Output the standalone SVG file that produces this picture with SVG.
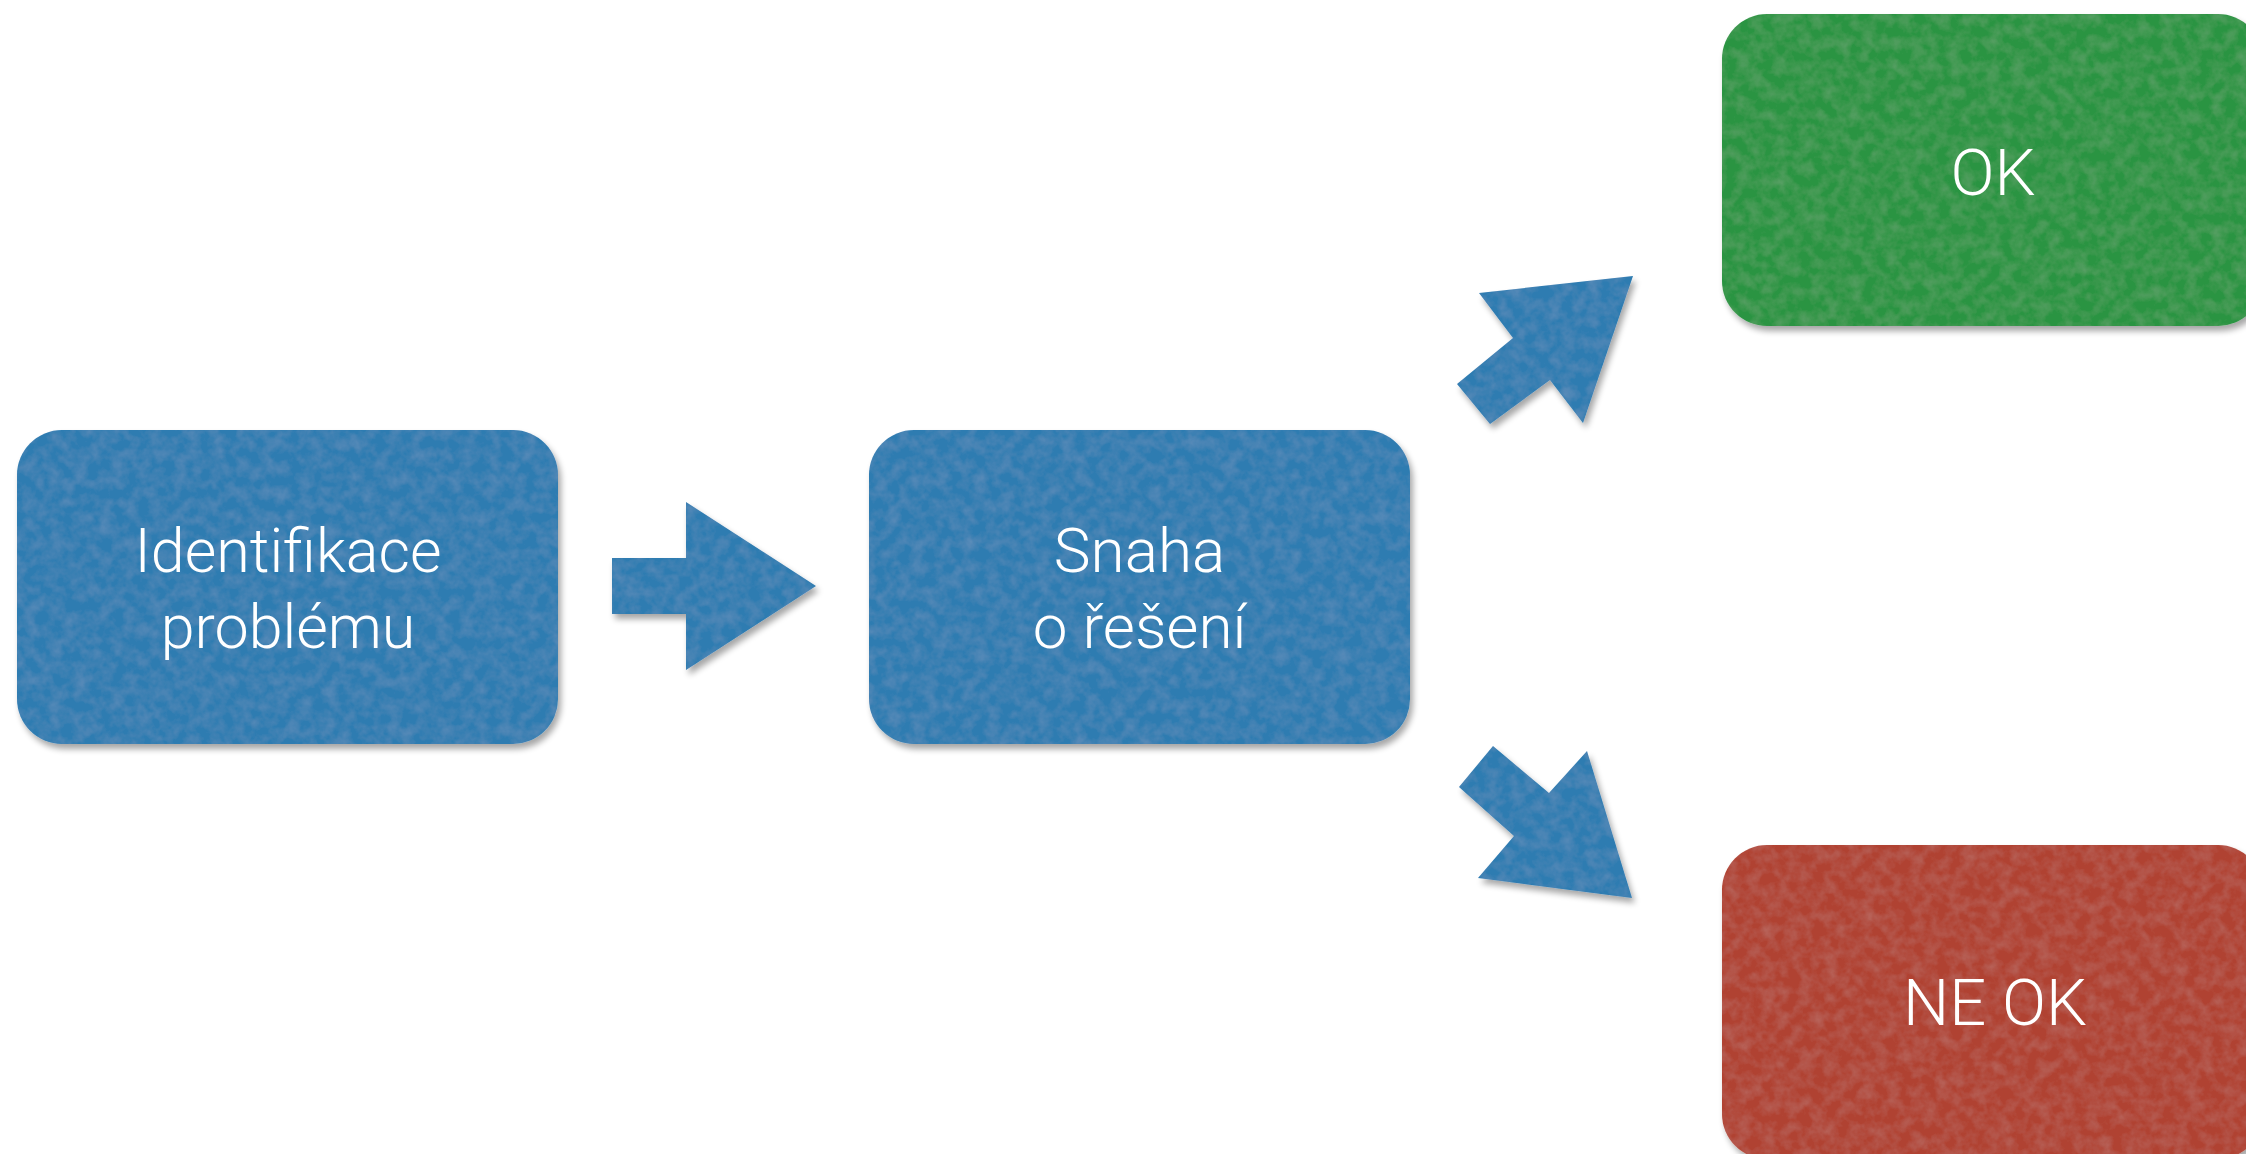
<svg xmlns="http://www.w3.org/2000/svg" width="2246" height="1154" viewBox="0 0 2246 1154">
<style>
  .lbl { font-family: Roboto, "Liberation Sans", Arial, sans-serif; fill: #ffffff; text-anchor: middle; font-weight: 300; }
  .blue { fill: #2e7bb1; }
  .green { fill: #2c9443; }
  .red { fill: #b04231; }
</style>
<defs>
  <filter id="felt" x="-5%" y="-5%" width="115%" height="120%">
    <feGaussianBlur in="SourceAlpha" stdDeviation="3" result="b"/>
    <feOffset in="b" dx="3" dy="5" result="o"/>
    <feComponentTransfer in="o" result="sh"><feFuncA type="linear" slope="0.35"/></feComponentTransfer>
    <feTurbulence type="fractalNoise" baseFrequency="0.08" numOctaves="3" seed="7" result="n"/>
    <feColorMatrix in="n" type="matrix" values="0 0 0 0 1  0 0 0 0 1  0 0 0 0 1  0.12 0 0 0 -0.04" result="t0"/>
    <feComposite in="t0" in2="SourceAlpha" operator="in" result="tex"/>
    <feMerge><feMergeNode in="sh"/><feMergeNode in="SourceGraphic"/><feMergeNode in="tex"/></feMerge>
  </filter>
</defs>
<rect width="2246" height="1154" fill="#ffffff"/>
<g id="connectors">
  <polygon id="arrow-1" class="blue" filter="url(#felt)" points="612,558 686,558 686,502 816,586 686,670 686,614 612,614"/>
  <polygon id="arrow-ok" class="blue" filter="url(#felt)" points="1457,384 1490,424 1550,380 1583,423 1633,276 1479,293 1513,338"/>
  <polygon id="arrow-neok" class="blue" filter="url(#felt)" points="1459,787 1493,746 1549,793 1587,751 1632,898 1478,878 1514,836"/>
</g>
<g id="node-identifikace">
  <rect class="blue" filter="url(#felt)" x="17" y="430" width="541" height="314" rx="45" ry="45"/>
  <text class="lbl" x="288" y="572" font-size="61">Identifikace</text>
  <text class="lbl" x="288" y="648" font-size="61">problému</text>
</g>
<g id="node-snaha">
  <rect class="blue" filter="url(#felt)" x="869" y="430" width="541" height="314" rx="45" ry="45"/>
  <text class="lbl" x="1139.5" y="572" font-size="62">Snaha</text>
  <text class="lbl" x="1139.5" y="648" font-size="62">o řešení</text>
</g>
<g id="node-ok">
  <rect class="green" filter="url(#felt)" x="1722" y="14" width="541" height="312" rx="45" ry="45"/>
  <text class="lbl" x="1993" y="195" font-size="65">OK</text>
</g>
<g id="node-neok">
  <rect class="red" filter="url(#felt)" x="1722" y="845" width="541" height="314" rx="45" ry="45"/>
  <text class="lbl" x="1995" y="1025" font-size="65">NE OK</text>
</g>
</svg>
